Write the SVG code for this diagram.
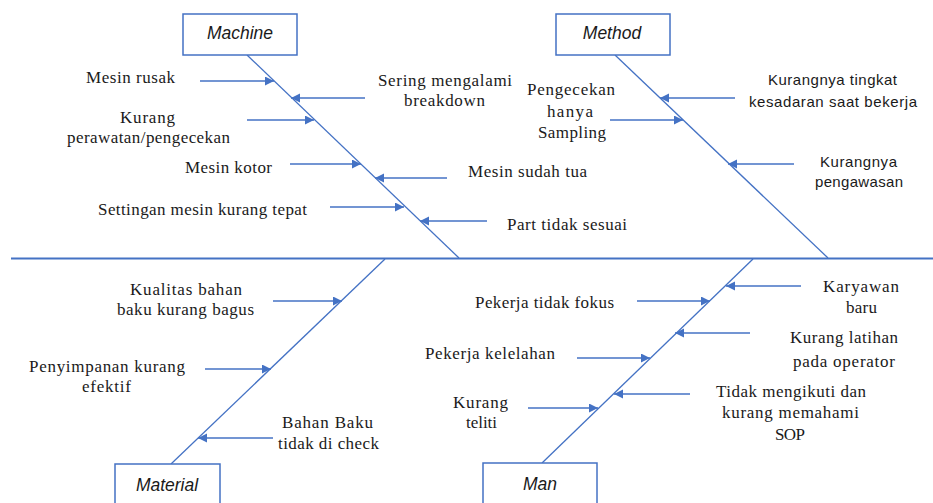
<svg xmlns="http://www.w3.org/2000/svg" width="933" height="503" viewBox="0 0 933 503">
<style>
.bg{fill:#ffffff}
.box{fill:#ffffff;stroke:#4472C4;stroke-width:1.5}
.cat{font-family:"Liberation Sans",Arial,sans-serif;font-style:italic;font-size:17.5px;fill:#1a1a1a;text-anchor:middle}
.spine{stroke:#4472C4;stroke-width:2.2;fill:none}
.bone{stroke:#4472C4;stroke-width:1.3;fill:none}
.arr{stroke:#4472C4;stroke-width:1.3;fill:none;marker-end:url(#ah)}
.s{font-family:"Liberation Serif","Times New Roman",serif;font-size:17px;fill:#1a1a1a;text-anchor:middle}
.ss{font-family:"Liberation Sans",Arial,sans-serif;font-size:15px;fill:#1a1a1a;text-anchor:middle}
</style>
<defs>
<marker id="ah" markerUnits="userSpaceOnUse" markerWidth="10" markerHeight="10" refX="9" refY="4.5" orient="auto">
<path d="M0,0 L9,4.5 L0,9 z" fill="#4472C4"/>
</marker>
</defs>
<rect class="bg" x="0" y="0" width="933" height="503"/>

<g id="connectors">
<line class="spine" x1="11" y1="258.5" x2="933" y2="258.5"/>
<line class="bone" x1="247" y1="55" x2="459" y2="258"/>
<line class="bone" x1="615" y1="55" x2="828" y2="258"/>
<line class="bone" x1="385" y1="259" x2="171" y2="464"/>
<line class="bone" x1="753" y1="259" x2="542" y2="463"/>
<!-- Machine -->
<line class="arr" x1="200" y1="81" x2="274" y2="81"/>
<line class="arr" x1="365" y1="98" x2="291" y2="98"/>
<line class="arr" x1="247" y1="120" x2="314" y2="120"/>
<line class="arr" x1="290" y1="164" x2="361" y2="164"/>
<line class="arr" x1="447" y1="178" x2="375" y2="178"/>
<line class="arr" x1="330" y1="207" x2="404" y2="207"/>
<line class="arr" x1="487" y1="221" x2="420" y2="221"/>
<!-- Method -->
<line class="arr" x1="735" y1="98" x2="660" y2="98"/>
<line class="arr" x1="610" y1="120" x2="683" y2="120"/>
<line class="arr" x1="794" y1="164" x2="728" y2="164"/>
<!-- Material -->
<line class="arr" x1="273" y1="301" x2="342" y2="301"/>
<line class="arr" x1="205" y1="369" x2="271" y2="369"/>
<line class="arr" x1="273" y1="438" x2="198" y2="438"/>
<!-- Man -->
<line class="arr" x1="801" y1="286" x2="726" y2="286"/>
<line class="arr" x1="637" y1="301" x2="710" y2="301"/>
<line class="arr" x1="750" y1="333" x2="675" y2="333"/>
<line class="arr" x1="577" y1="358" x2="650" y2="358"/>
<line class="arr" x1="690" y1="394" x2="614" y2="394"/>
<line class="arr" x1="528" y1="408" x2="598" y2="408"/>
</g>

<g id="machine">
<rect class="box" x="183" y="14" width="114" height="41"/>
<text class="cat" x="240" y="39">Machine</text>
</g>
<g id="method">
<rect class="box" x="556" y="14" width="114" height="41"/>
<text class="cat" x="612" y="39">Method</text>
</g>
<g id="material">
<rect class="box" x="115" y="464" width="105" height="45"/>
<text class="cat" x="167" y="491">Material</text>
</g>
<g id="man">
<rect class="box" x="483" y="463" width="114" height="46"/>
<text class="cat" x="540" y="490">Man</text>
</g>

<g id="mesin-rusak"><text class="s" x="130.5" y="83" textLength="89" lengthAdjust="spacing">Mesin rusak</text></g>
<g id="sering-breakdown">
<text class="s" x="445" y="86" textLength="134" lengthAdjust="spacing">Sering mengalami</text>
<text class="s" x="444.5" y="106" textLength="81" lengthAdjust="spacing">breakdown</text>
</g>
<g id="kurang-perawatan">
<text class="s" x="147.5" y="123" textLength="55" lengthAdjust="spacing">Kurang</text>
<text class="s" x="148.5" y="143" textLength="163" lengthAdjust="spacing">perawatan/pengecekan</text>
</g>
<g id="mesin-kotor"><text class="s" x="228.5" y="173" textLength="87" lengthAdjust="spacing">Mesin kotor</text></g>
<g id="mesin-tua"><text class="s" x="527.5" y="177" textLength="119" lengthAdjust="spacing">Mesin sudah tua</text></g>
<g id="settingan"><text class="s" x="202.5" y="215" textLength="209" lengthAdjust="spacing">Settingan mesin kurang tepat</text></g>
<g id="part"><text class="s" x="567" y="230" textLength="120" lengthAdjust="spacing">Part tidak sesuai</text></g>

<g id="pengecekan">
<text class="s" x="571" y="95" textLength="88" lengthAdjust="spacing">Pengecekan</text>
<text class="s" x="570" y="117" textLength="46" lengthAdjust="spacing">hanya</text>
<text class="s" x="572" y="138" textLength="68" lengthAdjust="spacing">Sampling</text>
</g>
<g id="kesadaran">
<text class="ss" x="832.5" y="85" textLength="129" lengthAdjust="spacing">Kurangnya tingkat</text>
<text class="ss" x="833" y="107" textLength="168" lengthAdjust="spacing">kesadaran saat bekerja</text>
</g>
<g id="pengawasan">
<text class="ss" x="858.5" y="167" textLength="77" lengthAdjust="spacing">Kurangnya</text>
<text class="ss" x="859" y="187" textLength="88" lengthAdjust="spacing">pengawasan</text>
</g>

<g id="kualitas">
<text class="s" x="186" y="295" textLength="112" lengthAdjust="spacing">Kualitas bahan</text>
<text class="s" x="185.5" y="315" textLength="137" lengthAdjust="spacing">baku kurang bagus</text>
</g>
<g id="penyimpanan">
<text class="s" x="107" y="372" textLength="156" lengthAdjust="spacing">Penyimpanan kurang</text>
<text class="s" x="106.5" y="392" textLength="49" lengthAdjust="spacing">efektif</text>
</g>
<g id="bahan-baku">
<text class="s" x="327.5" y="428" textLength="91" lengthAdjust="spacing">Bahan Baku</text>
<text class="s" x="328.5" y="449" textLength="101" lengthAdjust="spacing">tidak di check</text>
</g>

<g id="karyawan">
<text class="s" x="861" y="292" textLength="76" lengthAdjust="spacing">Karyawan</text>
<text class="s" x="861.5" y="313" textLength="31" lengthAdjust="spacing">baru</text>
</g>
<g id="tidak-fokus"><text class="s" x="544.5" y="308" textLength="139" lengthAdjust="spacing">Pekerja tidak fokus</text></g>
<g id="latihan">
<text class="s" x="844" y="343" textLength="108" lengthAdjust="spacing">Kurang latihan</text>
<text class="s" x="844" y="367" textLength="102" lengthAdjust="spacing">pada operator</text>
</g>
<g id="kelelahan"><text class="s" x="490" y="359" textLength="130" lengthAdjust="spacing">Pekerja kelelahan</text></g>
<g id="sop">
<text class="s" x="791" y="397" textLength="150" lengthAdjust="spacing">Tidak mengikuti dan</text>
<text class="s" x="790.5" y="418" textLength="137" lengthAdjust="spacing">kurang memahami</text>
<text class="s" x="790" y="440" textLength="30" lengthAdjust="spacing">SOP</text>
</g>
<g id="teliti">
<text class="s" x="480.5" y="408" textLength="55" lengthAdjust="spacing">Kurang</text>
<text class="s" x="481.5" y="428" textLength="31" lengthAdjust="spacing">teliti</text>
</g>
</svg>
